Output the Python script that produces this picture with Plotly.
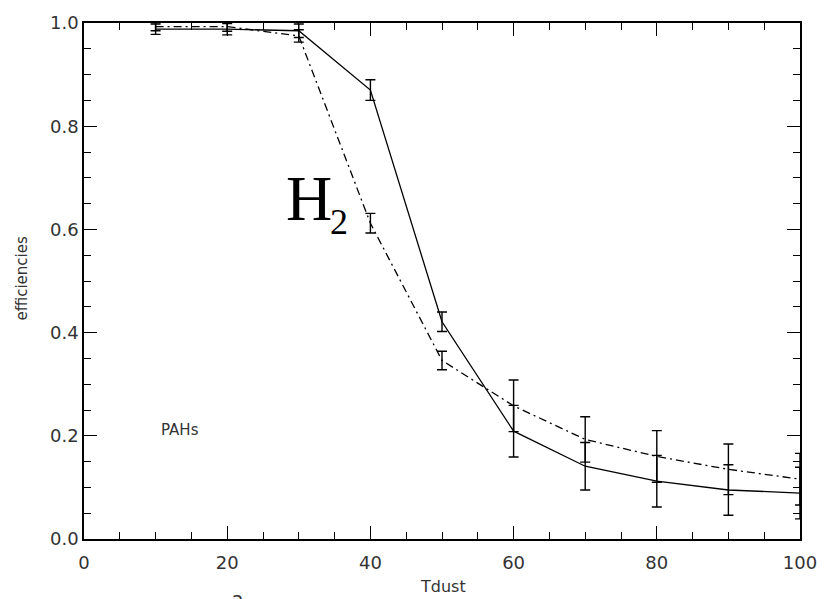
import plotly.graph_objects as go

# Dust temperature grid (K)
tdust = [10, 20, 30, 40, 50, 60, 70, 80, 90, 100]

# H2 formation efficiency on PAHs, two model variants, with uncertainties
eff_solid = [0.988, 0.988, 0.985, 0.870, 0.421, 0.209, 0.141, 0.112, 0.095, 0.089]
err_solid = [0.010, 0.011, 0.013, 0.020, 0.019, 0.050, 0.046, 0.050, 0.049, 0.050]

eff_dashdot = [0.993, 0.993, 0.975, 0.612, 0.346, 0.258, 0.193, 0.160, 0.135, 0.116]
err_dashdot = [0.008, 0.009, 0.012, 0.019, 0.018, 0.050, 0.044, 0.050, 0.049, 0.050]

x_ticks = [0, 20, 40, 60, 80, 100]
y_ticks = [0.0, 0.2, 0.4, 0.6, 0.8, 1.0]

W, H = 834, 599
M_L, M_R, M_T, M_B = 84, 34, 12, 60
PW, PH = W - M_L - M_R, H - M_T - M_B


def px_x(px):
    return (px - M_L) / PW


def px_y(py):
    return (H - M_B - py) / PH


fig = go.Figure()

fig.add_trace(go.Scatter(
    x=tdust, y=eff_solid, mode="lines",
    line=dict(color="black", width=1.3),
    error_y=dict(type="data", array=err_solid, visible=True,
                 color="black", thickness=1.4, width=5),
    showlegend=False,
))

fig.add_trace(go.Scatter(
    x=tdust, y=eff_dashdot, mode="lines",
    line=dict(color="black", width=1.3, dash="8px,4px,2px,4px"),
    error_y=dict(type="data", array=err_dashdot, visible=True,
                 color="black", thickness=1.4, width=5),
    showlegend=False,
))

tick_font = dict(family="DejaVu Sans", size=18, color="#333")

fig.update_xaxes(
    range=[0, 100], tickvals=x_ticks, ticktext=[str(v) for v in x_ticks],
    ticks="inside", ticklen=13, tickwidth=1.3, tickcolor="black",
    minor=dict(ticks="inside", ticklen=7, tickwidth=1.2, dtick=5, tickcolor="black"),
    showline=True, linecolor="black", linewidth=1.5, mirror="allticks",
    showgrid=False, zeroline=False, tickfont=tick_font, ticklabelstandoff=7,
)
fig.update_yaxes(
    range=[0, 1.0], tickvals=y_ticks, ticktext=[f"{v:.1f}" for v in y_ticks],
    ticks="inside", ticklen=13, tickwidth=1.3, tickcolor="black",
    minor=dict(ticks="inside", ticklen=7, tickwidth=1.2, dtick=0.05, tickcolor="black"),
    showline=True, linecolor="black", linewidth=1.5, mirror="allticks",
    showgrid=False, zeroline=False, tickfont=tick_font,
)

annotations = [
    # axis titles
    dict(text="Tdust", x=px_x(443), y=px_y(588), xref="paper", yref="paper",
         xanchor="center", yanchor="middle", showarrow=False,
         font=dict(family="DejaVu Sans", size=16, color="#333")),
    dict(text="efficiencies", x=px_x(22), y=px_y(272), xref="paper", yref="paper",
         xanchor="center", yanchor="middle", showarrow=False, textangle=-90,
         font=dict(family="DejaVu Sans", size=15, color="#333")),
    # in-plot labels
    dict(text="PAHs", x=px_x(180), y=px_y(428), xref="paper", yref="paper",
         xanchor="center", yanchor="middle", showarrow=False,
         font=dict(family="DejaVu Sans", size=15, color="#333")),
    dict(text="H", x=px_x(284), y=px_y(216), xref="paper", yref="paper",
         xanchor="left", yanchor="bottom", yshift=-13, showarrow=False,
         font=dict(family="Liberation Serif", size=64, color="black")),
    dict(text="2", x=px_x(328), y=px_y(230), xref="paper", yref="paper",
         xanchor="left", yanchor="bottom", yshift=-8, showarrow=False,
         font=dict(family="Liberation Serif", size=36, color="black")),
    # caption character at the bottom edge
    dict(text="2", x=px_x(237), y=px_y(590), xref="paper", yref="paper",
         xanchor="center", yanchor="top", showarrow=False,
         font=dict(family="DejaVu Sans", size=18, color="#333")),
]

fig.update_layout(
    width=W, height=H,
    margin=dict(l=M_L, r=M_R, t=M_T, b=M_B),
    paper_bgcolor="white", plot_bgcolor="white",
    annotations=annotations,
)

fig.write_html("out.html")
